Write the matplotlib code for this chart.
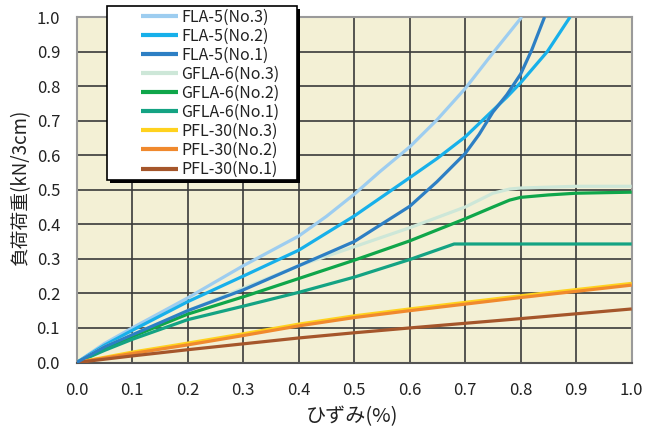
import matplotlib
matplotlib.use("Agg")
import matplotlib.pyplot as plt
from matplotlib.patches import Rectangle

plt.rcParams['font.family'] = ['Noto Sans CJK JP', 'DejaVu Sans']

# strain (%) and load (kN/3cm) for each specimen
fla5_no3_x = [0, 0.05, 0.1, 0.2, 0.3, 0.4, 0.45, 0.5, 0.546, 0.6, 0.649, 0.7, 0.751, 0.802]
fla5_no3_y = [0, 0.055, 0.1, 0.187, 0.28, 0.366, 0.423, 0.487, 0.552, 0.624, 0.702, 0.793, 0.898, 1.0]

fla5_no2_x = [0, 0.05, 0.1, 0.2, 0.3, 0.4, 0.5, 0.6, 0.649, 0.7, 0.75, 0.775, 0.8, 0.848, 0.889]
fla5_no2_y = [0, 0.05, 0.093, 0.176, 0.25, 0.325, 0.424, 0.535, 0.59, 0.653, 0.73, 0.768, 0.81, 0.9, 1.0]

fla5_no1_x = [0, 0.05, 0.1, 0.2, 0.3, 0.4, 0.5, 0.546, 0.6, 0.649, 0.7, 0.725, 0.75, 0.775, 0.8, 0.82, 0.843]
fla5_no1_y = [0, 0.045, 0.08, 0.15, 0.21, 0.28, 0.35, 0.397, 0.452, 0.523, 0.605, 0.66, 0.725, 0.775, 0.835, 0.905, 1.0]

gfla6_no3_x = [0, 0.05, 0.1, 0.2, 0.3, 0.4, 0.5, 0.6, 0.7, 0.75, 0.78, 0.8, 0.9, 1.0]
gfla6_no3_y = [0, 0.045, 0.08, 0.15, 0.215, 0.28, 0.335, 0.39, 0.45, 0.49, 0.502, 0.505, 0.51, 0.51]

gfla6_no2_x = [0, 0.05, 0.1, 0.2, 0.3, 0.4, 0.5, 0.6, 0.7, 0.75, 0.78, 0.8, 0.85, 0.9, 1.0]
gfla6_no2_y = [0, 0.04, 0.075, 0.14, 0.19, 0.243, 0.296, 0.352, 0.416, 0.45, 0.47, 0.478, 0.485, 0.49, 0.493]

gfla6_no1_x = [0, 0.05, 0.1, 0.2, 0.3, 0.4, 0.5, 0.6, 0.68, 1.0]
gfla6_no1_y = [0, 0.035, 0.067, 0.124, 0.163, 0.203, 0.247, 0.298, 0.343, 0.343]

pfl30_x = [0, 0.1, 0.2, 0.3, 0.4, 0.5, 0.6, 0.8, 1.0]
pfl30_no3_y = [0, 0.03, 0.056, 0.083, 0.111, 0.135, 0.155, 0.193, 0.229]
pfl30_no2_y = [0, 0.026, 0.051, 0.078, 0.106, 0.13, 0.15, 0.188, 0.224]
pfl30_no1_y = [0, 0.019, 0.037, 0.054, 0.071, 0.086, 0.1, 0.127, 0.155]

series = [
    ("FLA-5(No.3)", fla5_no3_x, fla5_no3_y, "#9dcdf0", 3),
    ("FLA-5(No.2)", fla5_no2_x, fla5_no2_y, "#17b0ea", 3),
    ("FLA-5(No.1)", fla5_no1_x, fla5_no1_y, "#2d7fc4", 4),
    ("GFLA-6(No.3)", gfla6_no3_x, gfla6_no3_y, "#cde7d8", 3),
    ("GFLA-6(No.2)", gfla6_no2_x, gfla6_no2_y, "#0fa64a", 3),
    ("GFLA-6(No.1)", gfla6_no1_x, gfla6_no1_y, "#14a383", 3),
    ("PFL-30(No.3)", pfl30_x, pfl30_no3_y, "#ffd21e", 3),
    ("PFL-30(No.2)", pfl30_x, pfl30_no2_y, "#f0892e", 3),
    ("PFL-30(No.1)", pfl30_x, pfl30_no1_y, "#a5562b", 3),
]

ticks = [0.0, 0.1, 0.2, 0.3, 0.4, 0.5, 0.6, 0.7, 0.8, 0.9, 1.0]
tick_labels = [f"{t:.1f}" for t in ticks]

W, H = 660, 433
fig = plt.figure(figsize=(W / 100, H / 100), dpi=100)
ax = fig.add_axes([76.7 / W, 1 - 362.5 / H, 555 / W, 345.5 / H])
ax.set_facecolor("#f3f0d5")

handles = []
for label, xs, ys, color, z in series:
    h, = ax.plot(xs, ys, color=color, lw=2.3, label=label, zorder=z,
                 solid_capstyle="butt", solid_joinstyle="round")
    handles.append(h)

ax.set_xlim(0, 1.0)
ax.set_ylim(0, 1.0)
ax.set_xticks(ticks)
ax.set_yticks(ticks)
ax.set_xticklabels(tick_labels)
ax.set_yticklabels(tick_labels)
ax.tick_params(axis="x", length=0, pad=14, labelsize=12, labelcolor="#222222")
ax.tick_params(axis="y", length=0, pad=12, labelsize=12, labelcolor="#222222")
ax.grid(True, color="#3a3a3a", lw=1.2, zorder=1)
ax.set_axisbelow(True)
for side in ("top", "right", "left"):
    ax.spines[side].set_color("#9a9a9a")
    ax.spines[side].set_linewidth(1.5)
ax.spines["bottom"].set_color("#555555")
ax.spines["bottom"].set_linewidth(1.5)

fig.text(352.5 / W, 1 - 417 / H, "ひずみ(%)", ha="center", va="center",
         fontsize=14.5, color="#222222")
fig.text(21 / W, 1 - 188 / H, "負荷荷重(kN/3cm)", ha="center", va="center",
         rotation=90, fontsize=13.5, color="#222222")

# legend box with a solid drop shadow
bx, by, bw, bh = 107, 6, 190, 174
fig.add_artist(Rectangle(((bx + 3) / W, 1 - (by + bh + 3) / H), bw / W, bh / H,
                         transform=fig.transFigure, facecolor="black",
                         edgecolor="black", lw=0, zorder=8))
fig.add_artist(Rectangle((bx / W, 1 - (by + bh) / H), bw / W, bh / H,
                         transform=fig.transFigure, facecolor="white",
                         edgecolor="black", lw=1.2, zorder=9))
leg = fig.legend(handles=handles, loc="upper left",
                 bbox_to_anchor=(141 / W, 1 - 8.5 / H),
                 frameon=False, fontsize=11.5, handlelength=2.3,
                 handletextpad=0.2, labelspacing=0.13, borderpad=0,
                 borderaxespad=0)
leg.set_zorder(10)
for line in leg.get_lines():
    line.set_linewidth(3)
for t in leg.get_texts():
    t.set_color("#222222")

fig.savefig("out.png", dpi=100)
